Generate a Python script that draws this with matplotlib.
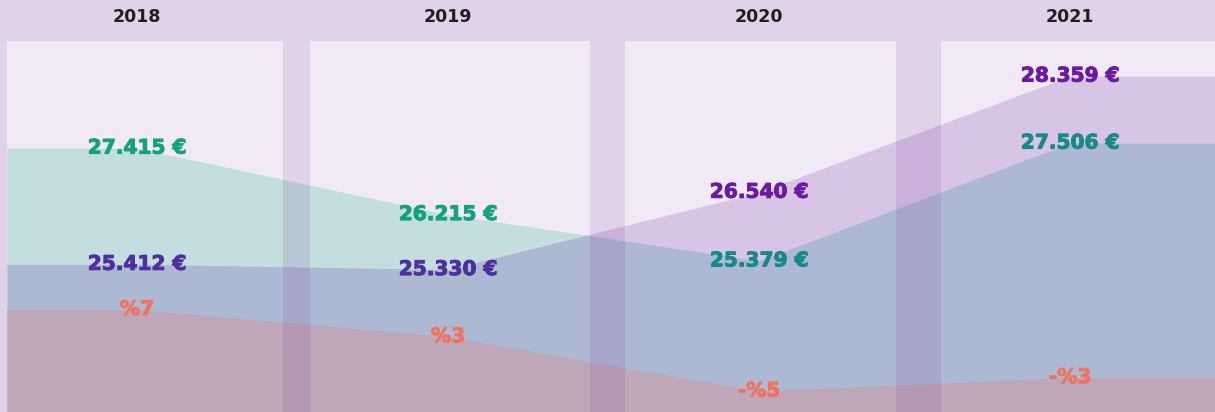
#!/usr/bin/env python3
"""Salary / change area chart per year, layered panels."""

import matplotlib
matplotlib.use("Agg")
import matplotlib.pyplot as plt
import matplotlib.patheffects as pe
import numpy as np

years = ["2018", "2019", "2020", "2021"]
teal_values = [27.415, 26.215, 25.379, 27.506]
purple_values = [25.412, 25.330, 26.540, 28.359]
change_pct = [7, 3, -5, -3]

teal_labels = ["27.415 €", "26.215 €", "25.379 €", "27.506 €"]
purple_labels = ["25.412 €", "25.330 €", "26.540 €", "28.359 €"]
change_labels = ["%7", "%3", "-%5", "-%3"]

# value ranges mapped to bottom/top of the plot, one per series
teal_range = (22.65, 30.09)
purple_range = (23.10, 29.55)
change_range = (-8.07, 52.5)

BG = "#f1eaf6"
TEAL_FILL = "#c4dee0"
PURPLE_FILL = "#d8c4e4"
OVERLAP_FILL = "#adb8d2"
SALMON_FILL = "#bea7b9"
STRIPE = (110 / 255, 40 / 255, 140 / 255)

teal_text = ["#13a17f", "#13a17f", "#168a86", "#168a86"]
purple_text = ["#4e2f9f", "#4e2f9f", "#6a1aa3", "#6a1aa3"]
salmon_text = "#f07462"


def scale(values, rng):
    lo, hi = rng
    return (np.asarray(values, dtype=float) - lo) / (hi - lo)


def put_label(ax, x, y, text, color):
    ax.text(x, y, text, ha="center", va="center", fontsize=14.5, fontweight="bold",
            family="DejaVu Sans", color=color, zorder=7,
            path_effects=[pe.withStroke(linewidth=0.7, foreground=color)])


fig = plt.figure(figsize=(12.15, 4.12), dpi=100)
fig.patch.set_facecolor(BG)
ax = fig.add_axes([0, 0, 1, 1])
ax.set_facecolor(BG)
xmin, xmax = -0.4405, 3.466
ax.set_xlim(xmin, xmax)
ax.set_ylim(0, 1)
ax.axis("off")

pos = np.arange(len(years))
grid = np.linspace(-0.418, xmax, 3000)
teal_h = np.interp(grid, pos, scale(teal_values, teal_range))
purple_h = np.interp(grid, pos, scale(purple_values, purple_range))
change_h = np.interp(grid, pos, scale(change_pct, change_range))

ax.fill_between(grid, 0, teal_h, color=TEAL_FILL, lw=0, zorder=1)
ax.fill_between(grid, 0, purple_h, color=PURPLE_FILL, lw=0, zorder=2)
ax.fill_between(grid, 0, np.minimum(teal_h, purple_h), color=OVERLAP_FILL, lw=0, zorder=3)
ax.fill_between(grid, 0, change_h, color=SALMON_FILL, lw=0, zorder=4)

# lavender frame: header band, left strip and gaps between year panels
top = 1 - 41 / 412
ax.axhspan(top, 1, color=STRIPE, alpha=0.12, lw=0, zorder=5)
ax.fill_between([xmin, -0.418], 0, top, color=STRIPE, alpha=0.12, lw=0, zorder=5)
for i in range(len(years) - 1):
    ax.fill_between([i + 0.47 - 0.015 * i, i + 0.555 + 0.015 * i], 0, top,
                    color=STRIPE, alpha=0.12, lw=0, zorder=5)

for i, year in enumerate(years):
    ax.text(i, 1 - 17 / 412, year, ha="center", va="center", fontsize=12.5,
            fontweight="bold", color="#231f20", family="DejaVu Sans", zorder=6)

for i, (v, lab) in enumerate(zip(scale(teal_values, teal_range), teal_labels)):
    put_label(ax, i, v, lab, teal_text[i])
for i, (v, lab) in enumerate(zip(scale(purple_values, purple_range), purple_labels)):
    put_label(ax, i, v, lab, purple_text[i])
for i, (v, lab) in enumerate(zip(scale(change_pct, change_range), change_labels)):
    put_label(ax, i, v, lab, salmon_text)

fig.savefig("out.png", dpi=100, facecolor=BG)
